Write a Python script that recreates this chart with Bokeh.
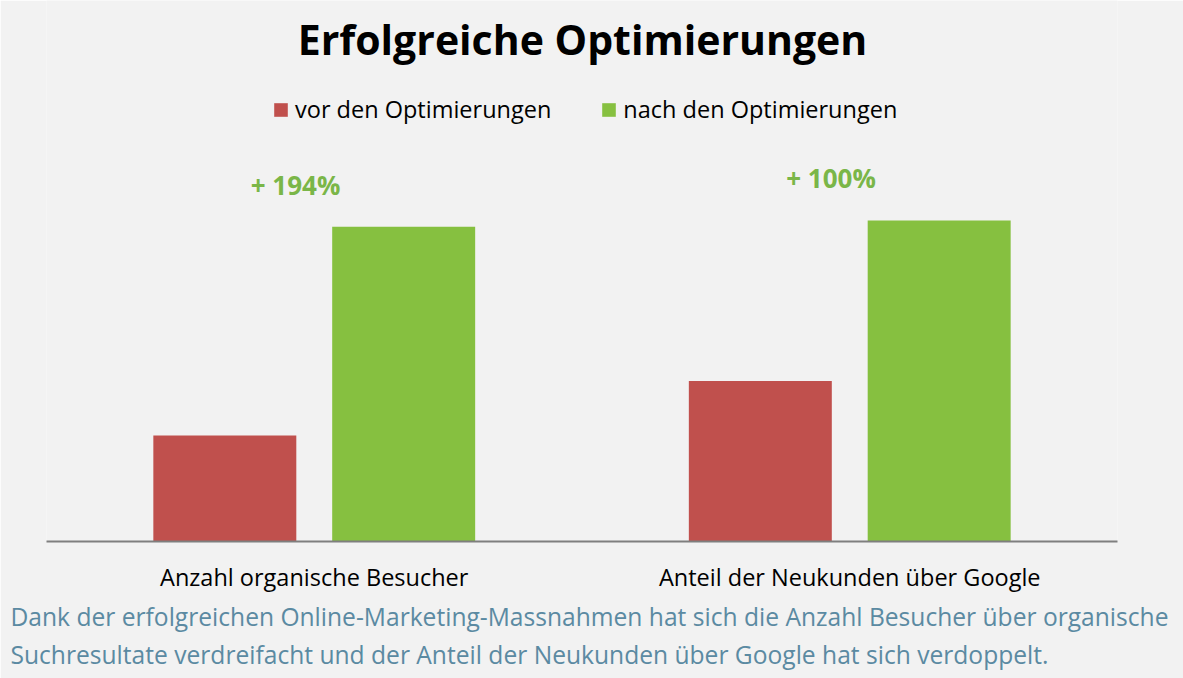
from bokeh.plotting import figure
from bokeh.models import Range1d, FactorRange, Label, Legend, Title
from bokeh.transform import dodge
from bokeh.core.properties import value
from bokeh.embed import file_html
from bokeh.resources import INLINE

# ---- data ----
categories = ["Anzahl organische Besucher", "Anteil der Neukunden über Google"]
vor_values = [33, 50]
nach_values = [98, 100]
change_labels = ["+ 194%", "+ 100%"]
series_names = ["vor den Optimierungen", "nach den Optimierungen"]
title_text = "Erfolgreiche Optimierungen"
footer_lines = [
    "Dank der erfolgreichen Online-Marketing-Massnahmen hat sich die Anzahl Besucher über organische",
    "Suchresultate verdreifacht und der Anteil der Neukunden über Google hat sich verdoppelt.",
]

RED = "#c0504d"
GREEN = "#86c040"
LABEL_GREEN = "#7ab648"
BG = "#f2f2f2"
FOOT = "#5b8aa2"
FONT = "Open Sans"

W, H = 1183, 678
p = figure(width=W, height=H, output_backend="svg", toolbar_location=None,
           x_range=FactorRange(*categories, range_padding=0),
           y_range=Range1d(0, 168.5),
           min_border_left=46, min_border_right=66, min_border_top=0,
           min_border_bottom=137)
p.x_range.range_padding = 0
p.background_fill_color = BG
p.border_fill_color = BG
p.outline_line_color = None
p.xgrid.visible = False
p.ygrid.visible = False
p.yaxis.visible = False

src = dict(cats=categories, vor=vor_values, nach=nach_values, lab=change_labels)

r1 = p.vbar(x=dodge("cats", -0.167, range=p.x_range), top="vor", width=0.267,
            source=src, fill_color=RED, line_color=None)
r2 = p.vbar(x=dodge("cats", 0.167, range=p.x_range), top="nach", width=0.267,
            source=src, fill_color=GREEN, line_color=None)

p.text(x=dodge("cats", -0.035, range=p.x_range), y="nach", text="lab", source=src,
       y_offset=-42, text_align="center", text_baseline="middle",
       text_font=value(FONT), text_font_style="bold", text_font_size="26px",
       text_color=LABEL_GREEN)

ax = p.xaxis[0]
ax.axis_line_color = "#7f7f7f"
ax.axis_line_width = 2
ax.major_tick_line_color = None
ax.minor_tick_line_color = None
ax.major_tick_in = 0
ax.major_tick_out = 0
ax.major_label_standoff = 19
ax.major_label_text_font = FONT
ax.major_label_text_font_size = "23.5px"
ax.major_label_text_color = "#000000"

legend = Legend(items=[(series_names[0], [r1]), (series_names[1], [r2])],
                orientation="horizontal", location=(226, 416),
                glyph_width=17, glyph_height=17, label_standoff=6, spacing=49,
                padding=0, margin=0, background_fill_alpha=0, border_line_color=None,
                label_text_font=FONT, label_text_font_size="23.5px",
                label_text_color="#000000")
p.add_layout(legend, "center")

p.add_layout(Label(x=536, y=503, x_units="screen", y_units="screen", text=title_text,
                   text_align="center", text_baseline="middle", text_font=FONT,
                   text_font_style="bold", text_font_size="41px", text_color="#000000"))

for i, line in enumerate(footer_lines):
    p.add_layout(Title(text=line, align="left", offset=-36, standoff=4 - 2 * i,
                       text_font=FONT, text_font_size="24.6px",
                       text_font_style="normal", text_color=FOOT), "below")

open("out.html", "w").write(file_html(p, INLINE))
